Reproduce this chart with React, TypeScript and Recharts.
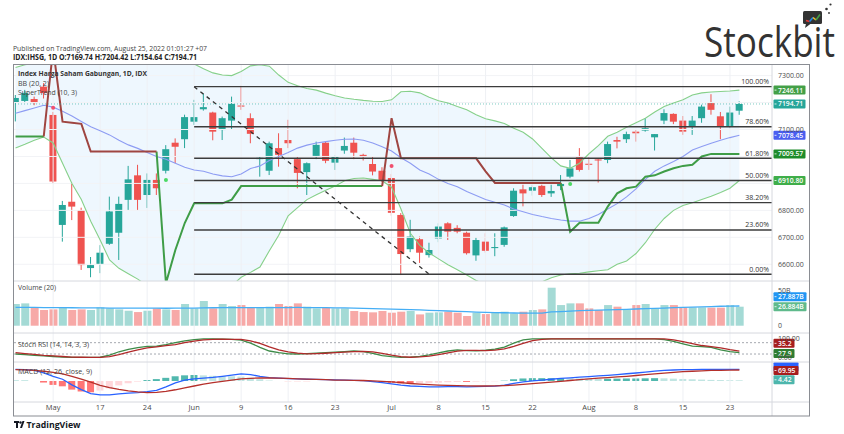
import React from "react";
import { ComposedChart, Bar, Line, Area, XAxis, YAxis, ReferenceLine, ReferenceDot, Cell } from "recharts";

// trading days shown on the chart (IDX:IHSG, 1D)
const dates = [
  "2022-04-25", "2022-04-26", "2022-04-27", "2022-04-28", "2022-05-09", "2022-05-10", "2022-05-11", "2022-05-12", "2022-05-13", "2022-05-17",
  "2022-05-18", "2022-05-19", "2022-05-20", "2022-05-23", "2022-05-24", "2022-05-25", "2022-05-27", "2022-05-30", "2022-05-31", "2022-06-02",
  "2022-06-03", "2022-06-06", "2022-06-07", "2022-06-08", "2022-06-09", "2022-06-10", "2022-06-13", "2022-06-14", "2022-06-15", "2022-06-16",
  "2022-06-17", "2022-06-20", "2022-06-21", "2022-06-22", "2022-06-23", "2022-06-24", "2022-06-27", "2022-06-28", "2022-06-29", "2022-06-30",
  "2022-07-01", "2022-07-04", "2022-07-05", "2022-07-06", "2022-07-07", "2022-07-08", "2022-07-11", "2022-07-12", "2022-07-13", "2022-07-14",
  "2022-07-15", "2022-07-18", "2022-07-19", "2022-07-20", "2022-07-21", "2022-07-22", "2022-07-25", "2022-07-26", "2022-07-27", "2022-07-28",
  "2022-07-29", "2022-08-01", "2022-08-02", "2022-08-03", "2022-08-04", "2022-08-05", "2022-08-08", "2022-08-09", "2022-08-10", "2022-08-11",
  "2022-08-12", "2022-08-15", "2022-08-16", "2022-08-18", "2022-08-19", "2022-08-22", "2022-08-23", "2022-08-24",
];

const open = [
  7202, 7206, 7213, 7259, 7154, 6746, 6832, 6801, 6586, 6601,
  6676, 6717, 6839, 6930, 6857, 6913, 6947, 7051, 7064, 7129,
  7175, 7163, 7098, 7133, 7189, 7142, 6990, 6947, 7031, 7061,
  6990, 6942, 7002, 7051, 6977, 7022, 7051, 7006, 6972, 6947,
  6920, 6783, 6656, 6693, 6634, 6696, 6752, 6735, 6717, 6633,
  6684, 6660, 6672, 6779, 6878, 6873, 6891, 6863, 6890, 6925,
  6997, 6973, 6989, 6987, 7061, 7064, 7092, 7096, 7071, 7133,
  7158, 7133, 7113, 7142, 7198, 7149, 7111, 7169.74,
];
const high = [
  7228, 7247, 7222, 7272, 7165, 6835, 6902, 6810, 6627, 6671,
  6851, 6851, 6965, 6969, 6937, 6937, 7042, 7067, 7155, 7210,
  7232, 7166, 7148, 7222, 7262, 7160, 7000, 7055, 7086, 7136,
  7000, 6978, 7055, 7055, 7003, 7070, 7070, 7010, 7000, 6960,
  6935, 6790, 6765, 6703, 6680, 6752, 6756, 6745, 6721, 6700,
  6715, 6715, 6740, 6882, 6895, 6895, 6895, 6895, 6931, 6987,
  7031, 7000, 6990, 7055, 7073, 7092, 7098, 7142, 7083, 7175,
  7160, 7150, 7150, 7192, 7231, 7165, 7185, 7204.42,
];
const low = [
  7130, 7200, 7190, 7215, 6900, 6684, 6764, 6579, 6552, 6567,
  6672, 6616, 6801, 6801, 6809, 6857, 6937, 6975, 7031, 7117,
  7170, 7060, 7061, 7100, 7173, 7049, 6925, 6931, 6962, 7031,
  6882, 6857, 6990, 6975, 6950, 7010, 6990, 6985, 6930, 6905,
  6780, 6560, 6645, 6605, 6625, 6682, 6690, 6715, 6636, 6613,
  6643, 6630, 6665, 6776, 6815, 6855, 6850, 6850, 6875, 6919,
  6944, 6950, 6903, 6975, 7030, 7050, 7055, 7092, 7022, 7120,
  7120, 7080, 7080, 7125, 7155, 7064, 7105, 7154.64,
];
const close = [
  7217, 7236, 7198, 7235, 6907, 6820, 6814, 6597, 6597, 6643,
  6796, 6824, 6915, 6839, 6913, 6882, 7027, 7036, 7146, 7146,
  7183, 7092, 7142, 7195, 7185, 7084, 6995, 7049, 7006, 7049,
  6939, 6975, 7043, 6984, 7000, 7039, 7014, 6998, 6944, 6910,
  6791, 6638, 6703, 6643, 6653, 6740, 6721, 6721, 6641, 6690,
  6650, 6664, 6737, 6873, 6863, 6886, 6857, 6872, 6900, 6956,
  6950, 6969, 6985, 7046, 7055, 7083, 7086, 7105, 7083, 7161,
  7129, 7092, 7133, 7185, 7173, 7111, 7163, 7194.71,
];

// volume in billions of shares and its 20-day average
const volume = [
  30.7, 31.6, 25.9, 22.2, 23.1, 25.9, 22.2, 23.1, 22.2, 25.9,
  24.5, 23.1, 21.2, 19.3, 21.2, 24.5, 23.1, 22.2, 30.7, 24.5,
  34.9, 24.5, 30.7, 27.8, 29.2, 25.5, 25.9, 26.9, 30.7, 27.8,
  31.6, 26.9, 24.5, 25.5, 24.5, 24.5, 20.8, 19.3, 18.9, 20.8,
  18.4, 19.8, 20.8, 16.0, 18.4, 18.9, 19.8, 18.4, 13.7, 18.4,
  16.5, 18.4, 19.8, 17.4, 19.8, 22.2, 23.1, 53.7, 29.2, 31.6,
  31.6, 24.5, 22.2, 29.2, 26.9, 22.2, 29.2, 30.7, 24.5, 29.2,
  29.2, 25.9, 25.9, 25.9, 25.5, 25.5, 29.2, 26.88,
];
const volumeMa = [
  25.9, 25.9, 25.8, 25.7, 25.6, 25.5, 25.4, 25.3, 25.2, 25.1,
  25.0, 25.0, 24.9, 24.9, 24.8, 24.8, 24.7, 24.8, 24.9, 25.0,
  25.3, 25.4, 25.5, 25.5, 25.6, 25.6, 25.5, 25.5, 25.6, 25.7,
  25.8, 25.7, 25.6, 25.5, 25.3, 25.1, 24.8, 24.5, 24.2, 23.8,
  23.5, 23.2, 22.8, 22.3, 21.8, 21.3, 20.8, 20.3, 19.8, 19.3,
  18.9, 18.6, 18.3, 18.0, 17.8, 17.7, 17.8, 19.5, 20.0, 20.6,
  21.2, 21.6, 21.9, 22.4, 22.8, 23.1, 23.6, 24.1, 24.5, 25.0,
  25.5, 25.9, 26.3, 26.7, 27.1, 27.5, 27.8, 27.89,
];

// Bollinger Bands (20, 2)
const bbUpper = [
  7330, 7340, 7345, 7350, 7370, 7400, 7420, 7440, 7450, 7450,
  7440, 7430, 7410, 7400, 7390, 7380, 7370, 7360, 7350, 7343,
  7325, 7310, 7302, 7300, 7315, 7336, 7340, 7335, 7302, 7275,
  7262, 7252, 7246, 7235, 7225, 7217, 7212, 7208, 7205, 7204,
  7210, 7240, 7242, 7236, 7220, 7207, 7198, 7185, 7173, 7155,
  7140, 7132, 7122, 7105, 7090, 7065, 7030, 6995, 6965, 6956,
  6975, 7010, 7040, 7075, 7090, 7108, 7125, 7142, 7165, 7185,
  7198, 7210, 7228, 7236, 7239, 7241, 7243, 7246.11,
];
const bbBasis = [
  7160, 7170, 7180, 7190, 7183, 7168, 7150, 7130, 7110, 7095,
  7080, 7060, 7043, 7030, 7015, 7000, 6990, 6975, 6960, 6950,
  6945, 6935, 6928, 6925, 6935, 6955, 6965, 6985, 7000, 7015,
  7031, 7042, 7050, 7055, 7060, 7064, 7065, 7060, 7050, 7036,
  7020, 6995, 6975, 6950, 6935, 6915, 6900, 6888, 6870, 6855,
  6840, 6830, 6820, 6805, 6795, 6785, 6777, 6770, 6764, 6760,
  6760, 6770, 6785, 6805, 6825, 6850, 6880, 6915, 6945, 6965,
  6981, 7000, 7024, 7037, 7049, 7060, 7070, 7078.45,
];
const bbLower = [
  7031, 7045, 7060, 7072, 7050, 6975, 6900, 6840, 6760, 6690,
  6616, 6585, 6565, 6545, 6520, 6500, 6490, 6480, 6478, 6480,
  6485, 6490, 6500, 6520, 6552, 6570, 6590, 6650, 6708, 6780,
  6810, 6840, 6858, 6875, 6890, 6910, 6918, 6920, 6915, 6910,
  6886, 6805, 6715, 6670, 6642, 6620, 6598, 6580, 6560, 6540,
  6525, 6515, 6510, 6508, 6510, 6520, 6535, 6550, 6560, 6565,
  6567, 6572, 6576, 6580, 6600, 6612, 6640, 6680, 6730, 6770,
  6800, 6818, 6828, 6840, 6852, 6866, 6882, 6910.80,
];

// SuperTrend (10, 3): up-trend and down-trend legs
const stUp = [
  7074, 7074, 7074, 7074, null, null, null, null, null, null,
  null, null, null, null, null, 7018, 6530, 6653, 6753, 6826,
  6826, 6826, 6826, 6840, 6890, 6890, 6890, 6890, 6890, 6890,
  6890, 6890, 6890, 6890, 6890, 6890, 6890, 6890, 6890, 6890,
  null, null, null, null, null, null, null, null, null, null,
  null, null, null, null, null, null, null, null, 6902, 6721,
  6754, 6754, 6754, 6814, 6863, 6882, 6888, 6925, 6930, 6944,
  6956, 6965, 6969, 7000, 7009.57, 7009.57, 7009.57, 7009.57,
];
const stDown = [
  null, null, null, 7074, 7400, 7129, 7125, 7121, 7018, 7018,
  7018, 7018, 7018, 7018, 7018, 7018, null, null, null, null,
  null, null, null, null, null, null, null, null, null, null,
  null, null, null, null, null, null, null, null, null, 6890,
  7142, 6993, 6993, 6993, 6993, 6993, 6993, 6993, 6993, 6993,
  6945, 6902, 6902, 6902, 6902, 6902, 6902, 6902, 6902, null,
  null, null, null, null, null, null, null, null, null, null,
  null, null, null, null, null, null, null, null,
];
const buyIdx = [16, 59];
const buyPrice = [6913, 6898];
const sellIdx = [4, 40];
const sellPrice = [7181, 6965];

// Stoch RSI (14, 14, 3, 3)
const stochK = [
  20, 17, 13, 10, 7, 4, 2, 2, 2, 3,
  14, 32, 44, 54, 60, 62, 70, 80, 90, 96,
  100, 100, 99, 97, 93, 78, 55, 36, 27, 21,
  20, 22, 24, 27, 30, 33, 36, 33, 24, 12,
  6, 2, 4, 8, 16, 26, 36, 42, 38, 37,
  40, 46, 56, 78, 95, 100, 100, 100, 100, 100,
  100, 100, 100, 100, 100, 100, 100, 100, 100, 96,
  87, 74, 62, 59, 55, 42, 33, 27.9,
];
const stochD = [
  27, 22, 18, 13, 10, 7, 4, 3, 2, 2,
  6, 17, 30, 42, 52, 58, 64, 70, 80, 88,
  95, 98, 99, 98, 97, 90, 76, 58, 42, 31,
  25, 21, 22, 24, 27, 30, 33, 34, 31, 24,
  14, 6, 3, 5, 9, 17, 26, 35, 39, 39,
  38, 41, 47, 60, 76, 91, 98, 100, 100, 100,
  100, 100, 100, 100, 100, 100, 100, 100, 100, 100,
  95, 86, 75, 65, 59, 52, 43, 35.2,
];

// MACD (12, 26, close, 9)
const macdLine = [
  74, 73, 68, 52, 30, 11, -25, -55, -80, -89,
  -89, -82, -78, -74, -68, -60, -38, -12, 5, 13,
  18, 23, 30, 38, 45, 40, 30, 22, 18, 15,
  13, 11, 10, 8, 7, 6, 4, 2, -4, -10,
  -18, -27, -32, -35, -37, -37, -36, -36, -37, -36,
  -35, -33, -27, -15, -6, 1, 6, 11, 16, 20,
  24, 28, 32, 36, 41, 46, 51, 57, 63, 67,
  70, 72, 73, 74, 74, 74, 74, 74.37,
];
const signalLine = [
  72, 71, 68, 62, 55, 45, 30, 12, -8, -28,
  -42, -54, -63, -70, -74, -72, -66, -56, -44, -32,
  -20, -10, -2, 6, 13, 17, 19, 19, 18, 16,
  14, 12, 10, 8, 6, 5, 4, 3, 1, -2,
  -6, -11, -16, -20, -23, -26, -28, -30, -31, -32,
  -32, -31, -29, -26, -22, -17, -12, -7, -2, 3,
  8, 13, 18, 22, 26, 30, 35, 40, 45, 50,
  55, 59, 62, 65, 67, 68, 69, 69.95,
];
const histogram = [
  2, 2, 0, -10, -25, -34, -55, -67, -72, -61,
  -47, -28, -15, -4, 6, 12, 20, 30, 36, 38,
  36, 33, 32, 30, 28, 20, 11, 3, 0, -1,
  -1, -1, 0, 0, 1, 1, 0, -1, -5, -8,
  -12, -16, -16, -15, -14, -11, -8, -6, -6, -4,
  -3, -2, 2, 11, 16, 18, 18, 18, 18, 17,
  16, 15, 14, 14, 15, 16, 16, 17, 18, 17,
  15, 13, 11, 9, 7, 6, 5, 4.42,
];

const tickIdx = [4, 9, 14, 19, 24, 29, 34, 40, 45, 50, 55, 61, 66, 71, 76];
const tickLabels = ["May", "17", "24", "Jun", "9", "16", "23", "Jul", "8", "15", "22", "Aug", "8", "15", "23"];
const priceTicks = [6600, 6700, 6800, 7100, 7300];
const priceGrid = [6600, 6700, 6800, 6900, 7000, 7100, 7200, 7300];

// Fibonacci retracement drawn from the June high to the July low
const fibLevels = [1, 0.786, 0.618, 0.5, 0.382, 0.236, 0];
const fibLabels = ["100.00%", "78.60%", "61.80%", "50.00%", "38.20%", "23.60%", "0.00%"];
const fibHigh = 7259;
const fibLow = 6563;
const fibStart = 19;
const trendEnd = 44;

const rows = dates.map((d, i) => ({
  i,
  date: d,
  open: open[i],
  high: high[i],
  low: low[i],
  close: close[i],
  vol: volume[i],
  volMa: volumeMa[i],
  bbUpper: bbUpper[i],
  bbBasis: bbBasis[i],
  bbLower: bbLower[i],
  stUp: stUp[i],
  stDown: stDown[i],
  k: stochK[i],
  d: stochD[i],
  macd: macdLine[i],
  signal: signalLine[i],
  hist: histogram[i],
}));

const UP = "#26a69a";
const DOWN = "#ef5350";
const X_DOMAIN: [number, number] = [-0.27, 80.47];
const M = { top: 0, right: 34, bottom: 0, left: 13 };
const last = rows.length - 1;

const Candle = (p: any) => {
  const { x, y, width, height, payload } = p;
  if (!payload || height == null) return <g />;
  const up = payload.close >= payload.open;
  const c = up ? UP : DOWN;
  const ratio = height / Math.max(payload.high - payload.low, 0.001);
  const cx = x + width / 2;
  const top = y + (payload.high - Math.max(payload.open, payload.close)) * ratio;
  const bh = Math.max(Math.abs(payload.open - payload.close) * ratio, 1);
  return (
    <g>
      <line x1={cx} x2={cx} y1={y} y2={y + height} stroke={c} strokeWidth={1} />
      <rect x={x} y={top} width={width} height={bh} fill={c} />
    </g>
  );
};

const axisTick = (fmt: (v: number) => string) => (p: any) => (
  <text x={p.x} y={p.y} dy={2.5} fontSize={7} fill="#4a4a4a" textAnchor="start">
    {fmt(p.payload.value)}
  </text>
);

const tag = (text: string, bg: string, w: number, dy = 0) => (p: any) => {
  const vb = p.viewBox || {};
  const right = (vb.x || 0) + (vb.width || 0);
  const cy = (vb.y || 0) + dy;
  return (
    <g>
      <rect x={right + 1.5} y={cy - 4.5} width={w} height={9} rx={1} fill={bg} />
      {text ? (
        <>
          <line x1={right + 2.5} x2={right + 4.5} y1={cy} y2={cy} stroke="#fff" strokeWidth={0.8} />
          <text x={right + 6} y={cy + 2.4} fontSize={6.8} fontWeight={600} fill="#fff">
            {text}
          </text>
        </>
      ) : null}
    </g>
  );
};

const fibLabel = (text: string) => (p: any) => {
  const vb = p.viewBox || {};
  return (
    <text x={(vb.x || 0) + (vb.width || 0) - 3} y={(vb.y || 0) - 2.5} textAnchor="end" fontSize={7} fill="#333">
      {text}
    </text>
  );
};

const histColor = (i: number) => {
  const h = histogram[i];
  const prev = i > 0 ? histogram[i - 1] : h;
  if (h >= 0) return h >= prev ? "#26a69a" : "#b2dfdb";
  return h <= prev ? "#ff5252" : "#ffcdd2";
};

const vGrid = () =>
  tickIdx.map((t) => <ReferenceLine key={"vg" + t} x={t} stroke="#eef0f4" strokeWidth={1} />);

export default function App() {
  return (
    <div
      style={{
        position: "absolute",
        left: 0,
        top: 0,
        width: 844,
        height: 434,
        background: "#fff",
        fontFamily: "'Open Sans', 'Noto Sans', sans-serif",
        overflow: "hidden",
      }}
    >
      {/* price pane */}
      <div style={{ position: "absolute", left: 0, top: 64 }}>
        <ComposedChart width={844} height={217} data={rows} margin={M}>
          <XAxis dataKey="i" type="number" domain={X_DOMAIN} allowDataOverflow hide ticks={tickIdx} />
          <YAxis
            orientation="right"
            width={38}
            domain={[6538, 7343]}
            allowDataOverflow
            ticks={priceTicks}
            interval={0}
            tickLine={false}
            axisLine={false}
            tickSize={0}
            tickMargin={6}
            tick={axisTick((v) => v.toFixed(2))}
          />
          {priceGrid.map((v) => (
            <ReferenceLine key={"hg" + v} y={v} stroke="#f2f3f6" />
          ))}
          {vGrid()}
          <Area
            dataKey={(r: any) => [r.bbLower, r.bbUpper]}
            type="linear"
            stroke="none"
            fill="rgba(33,150,243,0.08)"
            fillOpacity={1}
            isAnimationActive={false}
            activeDot={false}
          />
          <Line dataKey="bbUpper" type="linear" stroke="#86d08a" strokeWidth={1.1} dot={false} isAnimationActive={false} />
          <Line dataKey="bbLower" type="linear" stroke="#86d08a" strokeWidth={1.1} dot={false} isAnimationActive={false} />
          <Line dataKey="bbBasis" type="linear" stroke="#8d9cf3" strokeWidth={1.1} dot={false} isAnimationActive={false} />
          <Line dataKey="stUp" type="linear" stroke="#3f9d47" strokeWidth={2} dot={false} isAnimationActive={false} />
          <Line dataKey="stDown" type="linear" stroke="#9f4541" strokeWidth={2} dot={false} isAnimationActive={false} />
          <ReferenceLine y={close[last]} stroke="#26a69a" strokeOpacity={0.6} strokeDasharray="1 2" ifOverflow="visible" />
          {fibLevels.map((lv, k) => (
            <ReferenceLine
              key={"fib" + k}
              segment={[
                { x: fibStart, y: fibLow + (fibHigh - fibLow) * lv },
                { x: X_DOMAIN[1], y: fibLow + (fibHigh - fibLow) * lv },
              ]}
              stroke="#3c3c3c"
              strokeWidth={1.4}
              ifOverflow="visible"
              label={fibLabel(fibLabels[k])}
            />
          ))}
          <ReferenceLine
            segment={[
              { x: fibStart, y: fibHigh },
              { x: trendEnd, y: fibLow },
            ]}
            stroke="#333"
            strokeWidth={1.3}
            strokeDasharray="4 4"
            ifOverflow="visible"
          />
          <Bar dataKey={(r: any) => [r.low, r.high]} barSize={7} shape={Candle} isAnimationActive={false} />
          {buyIdx.map((x, k) => (
            <ReferenceDot key={"b" + k} x={x} y={buyPrice[k]} r={2} fill="#4cd964" stroke="none" />
          ))}
          {sellIdx.map((x, k) => (
            <ReferenceDot key={"s" + k} x={x} y={sellPrice[k]} r={2} fill="#f0506e" stroke="none" />
          ))}
          <ReferenceLine y={bbUpper[last]} stroke="none" ifOverflow="visible" label={tag(bbUpper[last].toFixed(2), "#43a047", 32)} />
          <ReferenceLine y={close[last]} stroke="none" ifOverflow="visible" label={tag(close[last].toFixed(2), "#26a69a", 32)} />
          <ReferenceLine y={bbBasis[last]} stroke="none" ifOverflow="visible" label={tag(bbBasis[last].toFixed(2), "#4a5ef0", 32)} />
          <ReferenceLine y={7009.57} stroke="none" ifOverflow="visible" label={tag("7009.57", "#1e8c2b", 32)} />
          <ReferenceLine y={bbLower[last]} stroke="none" ifOverflow="visible" label={tag(bbLower[last].toFixed(2), "#3fae49", 32)} />
        </ComposedChart>
      </div>

      {/* volume pane */}
      <div style={{ position: "absolute", left: 0, top: 281 }}>
        <ComposedChart width={844} height={52} data={rows} margin={M}>
          <XAxis dataKey="i" type="number" domain={X_DOMAIN} allowDataOverflow hide ticks={tickIdx} />
          <YAxis
            orientation="right"
            width={38}
            domain={[-10.3, 63.2]}
            allowDataOverflow
            ticks={[0, 50]}
            interval={0}
            tickLine={false}
            axisLine={false}
            tickSize={0}
            tickMargin={6}
            tick={axisTick((v) => (v === 0 ? "0" : v + "B"))}
          />
          {vGrid()}
          <Bar dataKey="vol" barSize={8} isAnimationActive={false}>
            {rows.map((r) => (
              <Cell key={"v" + r.i} fill={r.close >= r.open ? "rgba(38,166,154,0.42)" : "rgba(239,83,80,0.5)"} />
            ))}
          </Bar>
          <Line dataKey="volMa" type="linear" stroke="#45aef5" strokeWidth={1.3} dot={false} isAnimationActive={false} />
          <ReferenceLine y={volumeMa[last]} stroke="none" ifOverflow="visible" label={tag("27.887B", "#2196f3", 33, -9.3)} />
          <ReferenceLine y={volume[last]} stroke="none" ifOverflow="visible" label={tag("26.884B", "#5fba8c", 33)} />
        </ComposedChart>
      </div>

      {/* stoch rsi pane */}
      <div style={{ position: "absolute", left: 0, top: 333 }}>
        <ComposedChart width={844} height={29} data={rows} margin={M}>
          <XAxis dataKey="i" type="number" domain={X_DOMAIN} allowDataOverflow hide ticks={tickIdx} />
          <YAxis
            orientation="right"
            width={38}
            domain={[-22.2, 131.2]}
            allowDataOverflow
            ticks={[0, 100]}
            interval={0}
            tickLine={false}
            axisLine={false}
            tickSize={0}
            tickMargin={6}
            tick={axisTick((v) => v.toFixed(2))}
          />
          {vGrid()}
          <ReferenceLine y={80} stroke="#a5a8b0" strokeDasharray="2 2" />
          <ReferenceLine y={20} stroke="#a5a8b0" strokeDasharray="2 2" />
          <Line dataKey="k" type="linear" stroke="#3d8b48" strokeWidth={1.3} dot={false} isAnimationActive={false} />
          <Line dataKey="d" type="linear" stroke="#b02a2a" strokeWidth={1.3} dot={false} isAnimationActive={false} />
          <ReferenceLine y={stochD[last]} stroke="none" ifOverflow="visible" label={tag("35.2", "#a61e1e", 21, -7.8)} />
          <ReferenceLine y={stochK[last]} stroke="none" ifOverflow="visible" label={tag("27.9", "#2e7d32", 21, 1)} />
        </ComposedChart>
      </div>

      {/* macd pane + time axis */}
      <div style={{ position: "absolute", left: 0, top: 362 }}>
        <ComposedChart width={844} height={54} data={rows} margin={M}>
          <XAxis
            dataKey="i"
            type="number"
            domain={X_DOMAIN}
            allowDataOverflow
            ticks={tickIdx}
            interval={0}
            height={14}
            tickLine={false}
            axisLine={false}
            tickSize={0}
            tickMargin={3}
            tick={{ fontSize: 7.5, fill: "#4a4a4a" }}
            tickFormatter={(v: number) => tickLabels[tickIdx.indexOf(v)] ?? ""}
          />
          <YAxis orientation="right" width={38} domain={[-134, 121]} allowDataOverflow ticks={[]} tickLine={false} axisLine={false} />
          {vGrid()}
          <Bar dataKey="hist" barSize={7} isAnimationActive={false}>
            {rows.map((r) => (
              <Cell key={"h" + r.i} fill={histColor(r.i)} fillOpacity={0.8} />
            ))}
          </Bar>
          <Line dataKey="macd" type="linear" stroke="#2962ff" strokeWidth={1.3} dot={false} isAnimationActive={false} />
          <Line dataKey="signal" type="linear" stroke="#b5302b" strokeWidth={1.3} dot={false} isAnimationActive={false} />
          <ReferenceLine y={macdLine[last]} stroke="none" ifOverflow="visible" label={tag("", "#2962ff", 25, -2.5)} />
          <ReferenceLine y={signalLine[last]} stroke="none" ifOverflow="visible" label={tag("69.95", "#a61e1e", 25, 0.5)} />
          <ReferenceLine y={histogram[last]} stroke="none" ifOverflow="visible" label={tag("4.42", "#4db6ac", 21, -0.5)} />
        </ComposedChart>
      </div>

      {/* frame, legends and logos */}
      <svg width={844} height={434} style={{ position: "absolute", left: 0, top: 0, pointerEvents: "none" }}>
        <text x={13} y={50.5} fontSize={8} fill="#444" textLength={194} lengthAdjust="spacingAndGlyphs">
          Published on TradingView.com, August 25, 2022 01:01:27 +07
        </text>
        <text x={13} y={59.8} fontSize={8} fontWeight={700} fill="#222" textLength={184} lengthAdjust="spacingAndGlyphs">
          IDX:IHSG, 1D O:7169.74 H:7204.42 L:7154.64 C:7194.71
        </text>

        <text x={18} y={75.8} fontSize={7} fontWeight={700} fill="#333" textLength={129} lengthAdjust="spacingAndGlyphs">
          Index Harga Saham Gabungan, 1D, IDX
        </text>
        <text x={18} y={85.8} fontSize={7} fill="#444" textLength={31} lengthAdjust="spacingAndGlyphs">
          BB (20, 2)
        </text>
        <text x={18} y={95.2} fontSize={7} fill="#444" textLength={59} lengthAdjust="spacingAndGlyphs">
          SuperTrend (10, 3)
        </text>
        <text x={18} y={290} fontSize={7} fill="#444" textLength={38} lengthAdjust="spacingAndGlyphs">
          Volume (20)
        </text>
        <text x={18} y={346.5} fontSize={7} fill="#444" textLength={71} lengthAdjust="spacingAndGlyphs">
          Stoch RSI (14, 14, 3, 3)
        </text>
        <text x={18} y={374.2} fontSize={7} fill="#444" textLength={74} lengthAdjust="spacingAndGlyphs">
          MACD (12, 26, close, 9)
        </text>

        <line x1={13} x2={810} y1={281} y2={281} stroke="#d6d8de" />
        <line x1={13} x2={810} y1={333} y2={333} stroke="#d6d8de" />
        <line x1={13} x2={810} y1={362} y2={362} stroke="#d6d8de" />
        <line x1={13} x2={810} y1={402} y2={402} stroke="#d6d8de" />
        <line x1={772} x2={772} y1={64} y2={416} stroke="#d6d8de" />
        <rect x={13.5} y={64.5} width={796} height={351.5} fill="none" stroke="#8a8d93" strokeWidth={1} />

        {/* Stockbit mark */}
        <rect x={803} y={11} width={19} height={13} rx={1.5} fill="#333" />
        <polygon points="806,23.5 811,23.5 805,28" fill="#333" />
        <polyline points="806,20.5 809.5,21.5" stroke="#e53935" strokeWidth={1.6} fill="none" />
        <polyline points="809.5,21.5 813,17.5" stroke="#1e88e5" strokeWidth={1.6} fill="none" />
        <polyline points="813,17.5 816,20" stroke="#fbc02d" strokeWidth={1.6} fill="none" />
        <polyline points="816,20 820,14.5" stroke="#43a047" strokeWidth={1.6} fill="none" />
        <circle cx={826.5} cy={9} r={1.3} fill="#333" />
        <circle cx={830.5} cy={4.5} r={1.1} fill="#333" />
        <circle cx={829} cy={13} r={0.9} fill="#333" />
        <text x={704} y={56.5} fontSize={42} fontWeight={500} fill="#333" textLength={131} lengthAdjust="spacingAndGlyphs">
          Stockbit
        </text>

        {/* TradingView footer */}
        <rect x={14} y={421} width={5} height={2} fill="#131722" />
        <rect x={16} y={421} width={2} height={7} fill="#131722" />
        <circle cx={20.5} cy={422.5} r={1.2} fill="#131722" />
        <polygon points="20,428 22.5,421 24.5,421 22,428" fill="#131722" />
        <text x={26.5} y={428} fontSize={8} fontWeight={700} fill="#131722" textLength={54} lengthAdjust="spacingAndGlyphs">
          TradingView
        </text>
      </svg>
    </div>
  );
}
